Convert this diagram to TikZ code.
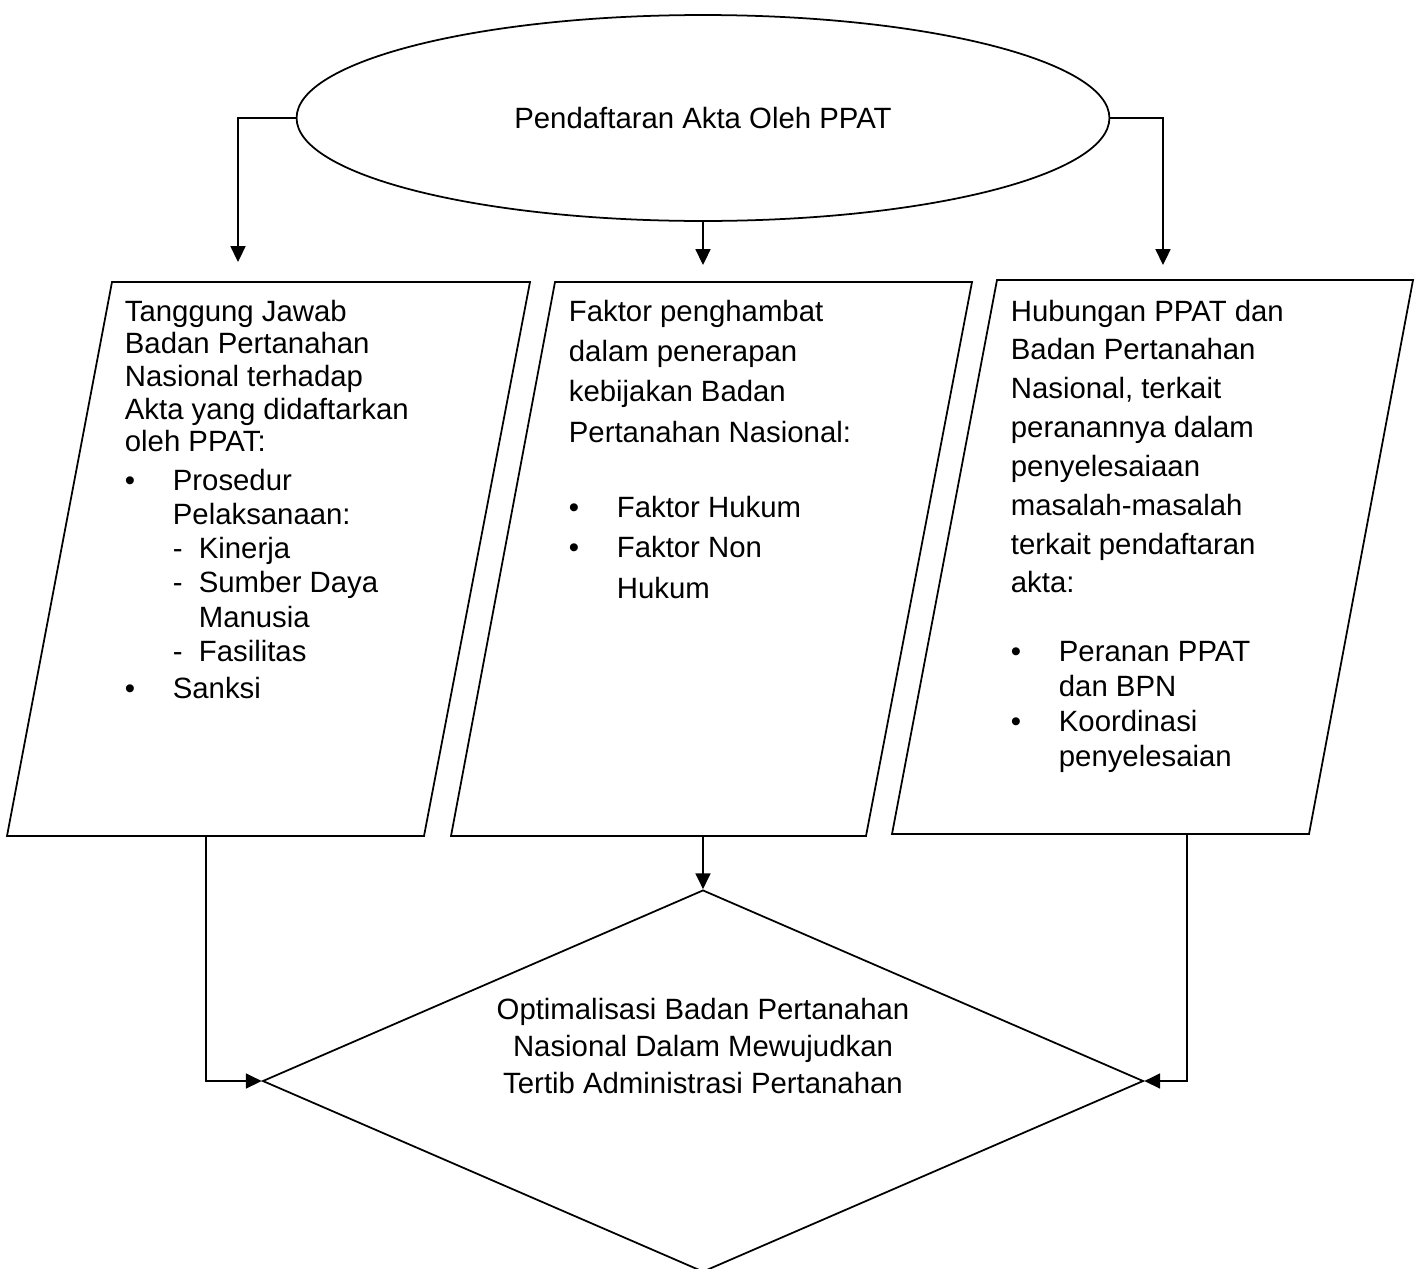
\documentclass[tikz,border=0pt]{standalone}
\usepackage{fontspec}
\setmainfont{Liberation Sans}
\usetikzlibrary{shapes.geometric,arrows.meta}
\newcommand{\itm}{\makebox[0.96cm][l]{\textbullet}}
\newcommand{\ind}{\hspace*{0.96cm}}
\newcommand{\dsh}{\makebox[0.52cm][l]{-}}

\begin{document}
\begin{tikzpicture}[
    x=0.02cm, y=-0.02cm,
    line width=1pt,
    topic/.style={ellipse, draw, minimum width=16.26cm, minimum height=4.12cm, inner sep=0pt, font=\fontsize{16.7pt}{20pt}\selectfont},
    para/.style={draw, line join=miter},
    boxtext/.style={anchor=north west, inner sep=0pt, align=left},
    goal/.style={diamond, draw, minimum width=17.62cm, minimum height=7.64cm, inner sep=2pt},
    link/.style={-{Triangle[length=9pt, width=8.5pt]}}
]
    \useasboundingbox (0,0) rectangle (1422,1268);

    % Top ellipse
    \node[topic] (pendaftaran) at (703,118) {Pendaftaran Akta Oleh PPAT};

    % Three parallelograms
    \draw[para] (112,282) -- (530,282) -- (424,836) -- (7,836) -- cycle;
    \draw[para] (555,282) -- (972,282) -- (866,836) -- (451,836) -- cycle;
    \draw[para] (997,280) -- (1413,280) -- (1309,834) -- (892,834) -- cycle;

    % Texts in the parallelograms
    \node[boxtext, font=\fontsize{16.7pt}{18.6pt}\selectfont] (tanggung_txt) at (124,299)
        {Tanggung Jawab\\Badan Pertanahan\\Nasional terhadap\\Akta yang didaftarkan\\oleh PPAT:\\[3.5pt]
         \itm Prosedur\\[0.8pt]\ind Pelaksanaan:\\[0.8pt]\ind\dsh Kinerja\\[0.8pt]\ind\dsh Sumber Daya\\[0.8pt]
         \ind\hspace*{0.52cm}Manusia\\[0.8pt]\ind\dsh Fasilitas\\[2.5pt]\itm Sanksi};
    \node[boxtext, font=\fontsize{16.7pt}{23pt}\selectfont] (faktor_txt) at (568,299)
        {Faktor penghambat\\dalam penerapan\\kebijakan Badan\\Pertanahan Nasional:\\[19.7pt]
         \itm Faktor Hukum\\\itm Faktor Non\\\ind Hukum};
    \node[boxtext, font=\fontsize{16.7pt}{22.1pt}\selectfont] (hubungan_txt) at (1010,299)
        {Hubungan PPAT dan\\Badan Pertanahan\\Nasional, terkait\\peranannya dalam\\penyelesaiaan\\
         masalah-masalah\\terkait pendaftaran\\akta:\\[17pt]
         \itm Peranan PPAT\\[-2.2pt]\ind dan BPN\\[-2.2pt]\itm Koordinasi\\[-2.2pt]\ind penyelesaian};

    % Bottom diamond
    \node[goal] (optimalisasi) at (703,1081) {};
    \node[align=center, font=\fontsize{16.7pt}{20.8pt}\selectfont] (optimalisasi_txt) at (703,1046)
        {Optimalisasi Badan Pertanahan\\Nasional Dalam Mewujudkan\\Tertib Administrasi Pertanahan};

    % Connector ends
    \coordinate (ltip) at (238,262);
    \coordinate (mtip) at (703,265);
    \coordinate (rtip) at (1163,265);
    \coordinate (lfoot) at (206,836);
    \coordinate (mfoot) at (703,836);
    \coordinate (rfoot) at (1187,834);

    % Connections
    \draw[link] (pendaftaran.west) -| (ltip);
    \draw[link] (pendaftaran.south) -- (mtip);
    \draw[link] (pendaftaran.east) -| (rtip);
    \draw[link] (lfoot) |- (optimalisasi.west);
    \draw[link] (mfoot) -- (optimalisasi.north);
    \draw[link] (rfoot) |- (optimalisasi.east);
\end{tikzpicture}
\end{document}
